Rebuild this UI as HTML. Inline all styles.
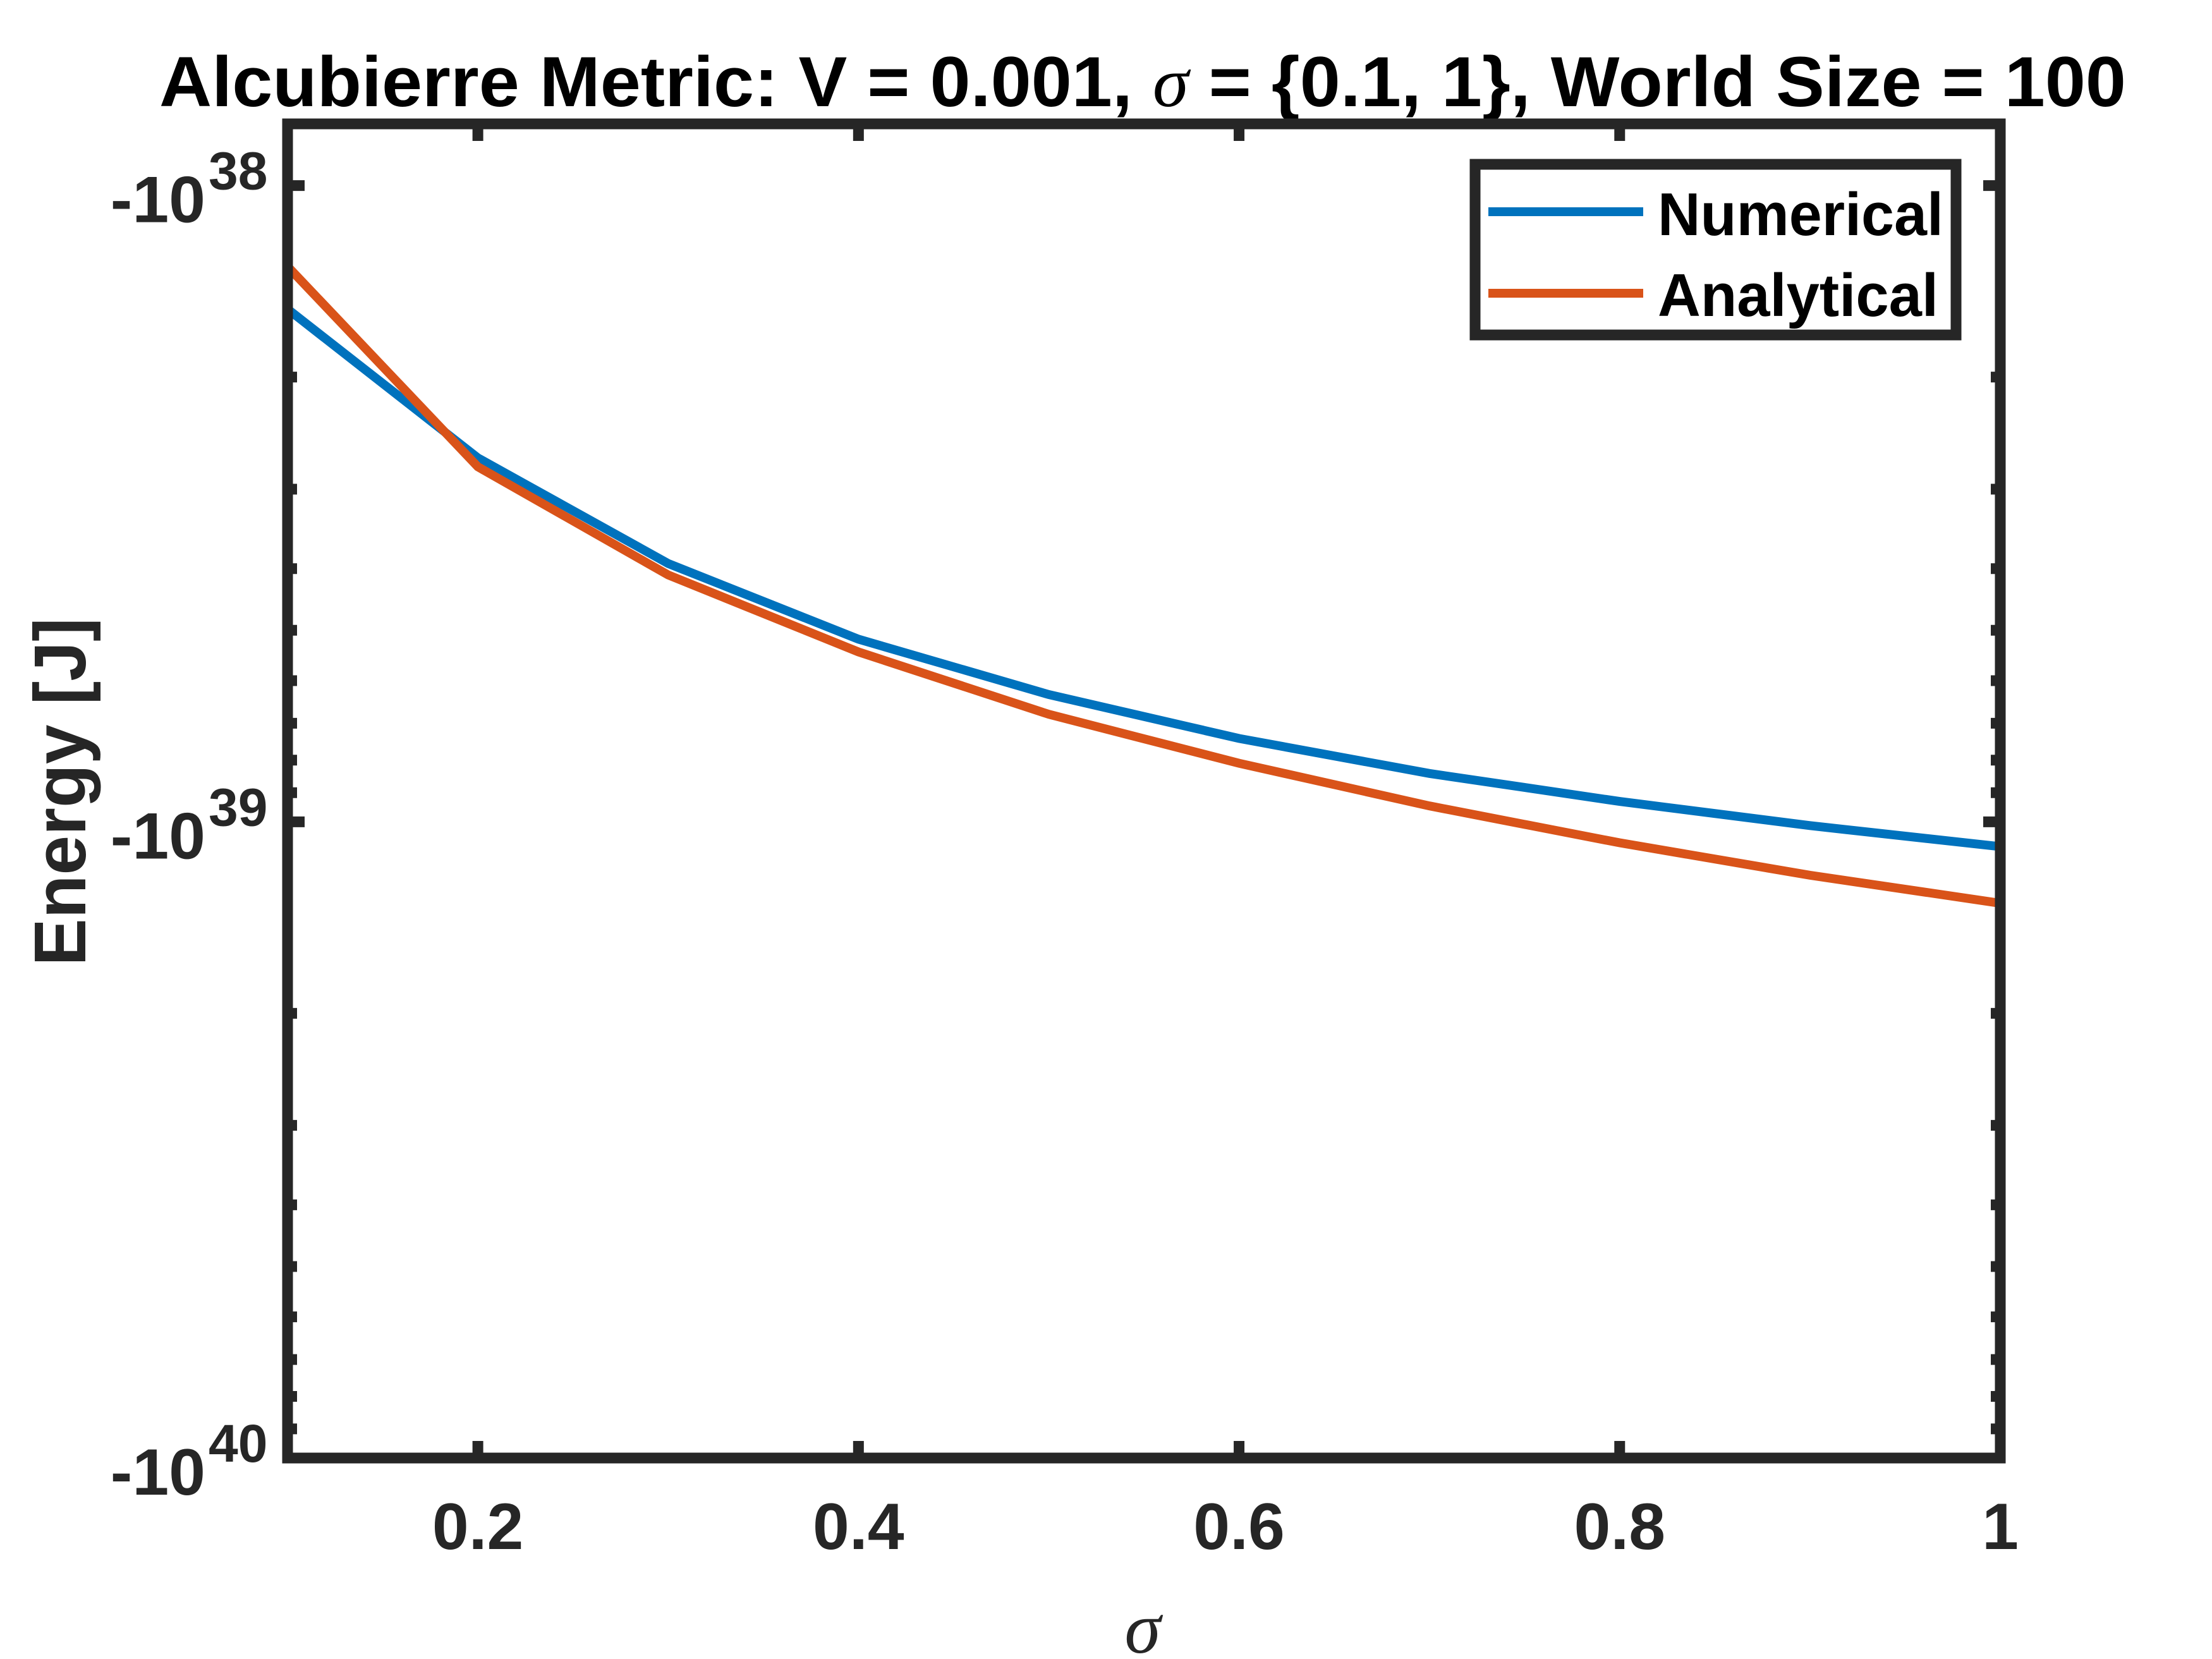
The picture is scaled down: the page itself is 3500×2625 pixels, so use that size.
<!DOCTYPE html>
<html><head><meta charset="utf-8"><style>
html,body{margin:0;padding:0;background:#fff;}
svg{display:block;}
text{font-family:"Liberation Sans",sans-serif;font-weight:bold;fill:#262626;}
</style></head><body>
<svg id="chart" width="3500" height="2625" viewBox="0 0 3500 2625" xmlns="http://www.w3.org/2000/svg">
<rect x="0" y="0" width="3500" height="2625" fill="#fff"/>
<text x="1808" y="168" text-anchor="middle" font-size="112" textLength="3112" lengthAdjust="spacingAndGlyphs" style="fill:#000">Alcubierre Metric: V = 0.001, <tspan font-family="Liberation Serif" font-style="italic" font-weight="normal">σ</tspan> = {0.1, 1}, World Size = 100</text>
<g id="plot"></g>
<text transform="translate(135,1253) rotate(-90)" text-anchor="middle" font-size="116" textLength="551" lengthAdjust="spacingAndGlyphs">Energy [J]</text>
<text x="1808" y="2615" text-anchor="middle" font-size="116" style="font-family:'Liberation Serif',serif;font-style:italic;font-weight:normal">σ</text>
<g>
<rect x="2334" y="260" width="761" height="270" fill="#fff" stroke="#262626" stroke-width="17"/>
<line x1="2355" y1="335" x2="2600" y2="335" stroke="#0072BD" stroke-width="14"/>
<text x="2623" y="372" font-size="96" style="fill:#000" textLength="452" lengthAdjust="spacingAndGlyphs">Numerical</text>
<line x1="2355" y1="464" x2="2600" y2="464" stroke="#D95319" stroke-width="14"/>
<text x="2623" y="500" font-size="96" style="fill:#000" textLength="444" lengthAdjust="spacingAndGlyphs">Analytical</text>
</g>
</svg>
<script>
const sigma = [0.1,0.2,0.3,0.4,0.5,0.6,0.7,0.8,0.9,1.0];
const numericalExp = [38.194,38.428,38.594,38.713,38.800,38.869,38.924,38.968,39.006,39.039];
const analyticalExp = [38.127,38.442,38.612,38.733,38.831,38.908,38.975,39.033,39.084,39.128];
const xTicks = [0.2,0.4,0.6,0.8,1];
const xTickLabels = ["0.2","0.4","0.6","0.8","1"];
const yDecades = [38,39,40];

const NS="http://www.w3.org/2000/svg";
const L=455,R=3165,T=196,B=2307;
const yTop=37.903,yBot=40;
const xs=v=>L+(v-0.1)/(1-0.1)*(R-L);
const ys=e=>T+(e-yTop)/(yBot-yTop)*(B-T);
const g=document.getElementById('plot');
function mk(tag,attrs){const e=document.createElementNS(NS,tag);for(const k in attrs)e.setAttribute(k,attrs[k]);return e;}

function series(arr,color,name){
  const p=mk('polyline',{points:sigma.map((s,i)=>xs(s)+','+ys(arr[i])).join(' '),fill:'none',stroke:color,'stroke-width':14,'stroke-linejoin':'miter'});
  
  
  g.appendChild(p);
}
series(numericalExp,'#0072BD','numerical-line');
series(analyticalExp,'#D95319','analytical-line');

yDecades.forEach(d=>{
  for(let k=1;k<=9;k++){
    const e=d+Math.log10(k);
    if(e<yTop||e>yBot+0.001)continue;
    const y=ys(e);const len=k===1?27:15;
    [[L,L+len],[R,R-len]].forEach(([a,b])=>{
      const t=mk('line',{x1:a,y1:y,x2:b,y2:y,stroke:'#262626','stroke-width':17});
      
      
      g.appendChild(t);
    });
    if(k===1){
      const tx=mk('text',{x:325,y:y+58,'text-anchor':'end','font-size':104});
      tx.textContent='-10';
      
      
      g.appendChild(tx);
      const sp=mk('text',{x:330,y:y+6,'font-size':84});
      sp.textContent=String(d);
      
      
      g.appendChild(sp);
    }
  }
});
xTicks.forEach((v,i)=>{
  const x=xs(v);
  [[B,B-27],[T,T+27]].forEach(([a,b])=>{
    const t=mk('line',{x1:x,y1:a,x2:x,y2:b,stroke:'#262626','stroke-width':17});
    
    
    g.appendChild(t);
  });
  const tx=mk('text',{x:x,y:2451,'text-anchor':'middle','font-size':104});
  tx.textContent=xTickLabels[i];
  
  
  g.appendChild(tx);
});
const frame=mk('rect',{x:L,y:T,width:R-L,height:B-T,fill:'none',stroke:'#262626','stroke-width':17});


g.appendChild(frame);
</script>
</body></html>
